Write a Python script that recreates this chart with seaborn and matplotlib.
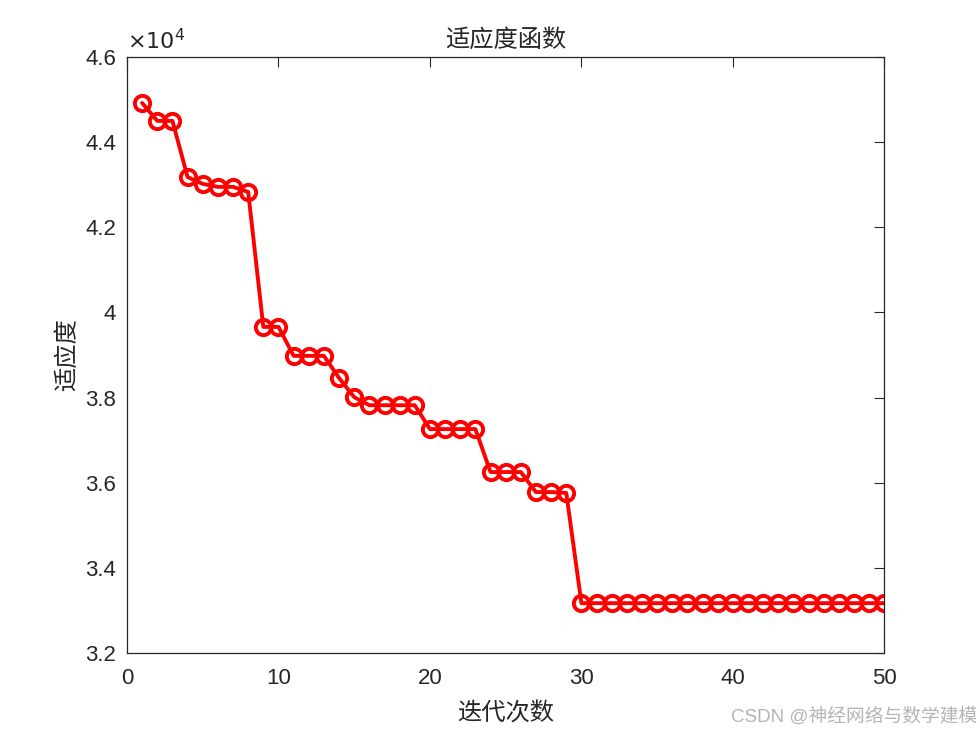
import matplotlib
matplotlib.use("Agg")
import matplotlib.pyplot as plt
import matplotlib.ticker as mticker
import pandas as pd
import seaborn as sns

sns.set_style("white")
plt.rcParams['font.family'] = ['Liberation Sans', 'Noto Sans CJK SC', 'DejaVu Sans']

# fitness per iteration (x1e4)
iterations = list(range(1, 51))
fitness = [4.492, 4.450, 4.450, 4.318, 4.302, 4.295, 4.295, 4.283, 3.966, 3.966,
           3.898, 3.898, 3.898, 3.846, 3.801, 3.782, 3.782, 3.782, 3.782, 3.726,
           3.726, 3.726, 3.726, 3.625, 3.625, 3.625, 3.578, 3.578, 3.576] + [3.317] * 21
fitness = [v * 1e4 for v in fitness]

data = pd.DataFrame({"iter": iterations, "fitness": fitness})

fig = plt.figure(figsize=(9.8, 7.35), dpi=100)
ax = fig.add_axes([0.1296, 0.1116, 0.7728, 0.8108])

sns.lineplot(data=data, x="iter", y="fitness", ax=ax, color="red", linewidth=2.8,
             marker="o", markersize=11, markerfacecolor="none",
             markeredgecolor="red", markeredgewidth=2.8)

ax.set_xlim(0, 50)
ax.set_ylim(3.2e4, 4.6e4)
ax.set_xticks([0, 10, 20, 30, 40, 50])
ax.set_yticks([3.2e4, 3.4e4, 3.6e4, 3.8e4, 4.0e4, 4.2e4, 4.4e4, 4.6e4])
ax.yaxis.set_major_formatter(mticker.FuncFormatter(lambda v, p: "%g" % round(v / 1e4, 1)))
ax.tick_params(direction="in", length=7, width=0.8, top=True, right=True,
               labelsize=16, colors="#262626")
ax.tick_params(axis="x", pad=11)
ax.tick_params(axis="y", pad=8)
for s in ax.spines.values():
    s.set_linewidth(0.9)
    s.set_color("#262626")

ax.text(0.0, 1.004, r"$\times10^{4}$", transform=ax.transAxes, fontsize=16,
        color="#262626", ha="left", va="bottom")

ax.set_title("适应度函数", fontsize=17.5, family=["Noto Sans CJK SC"], color="#262626", pad=7)
ax.set_xlabel("迭代次数", fontsize=17.5, family=["Noto Sans CJK SC"], color="#262626", labelpad=8)
ax.set_ylabel("适应度", fontsize=17.5, family=["Noto Sans CJK SC"], color="#262626", labelpad=4)

fig.text(0.997, 0.012, "CSDN @神经网络与数学建模", ha="right", va="bottom",
         fontsize=13.5, color="#b4b4b4", family=["Liberation Sans", "Noto Sans CJK SC"])

fig.savefig("out.png", dpi=100)
